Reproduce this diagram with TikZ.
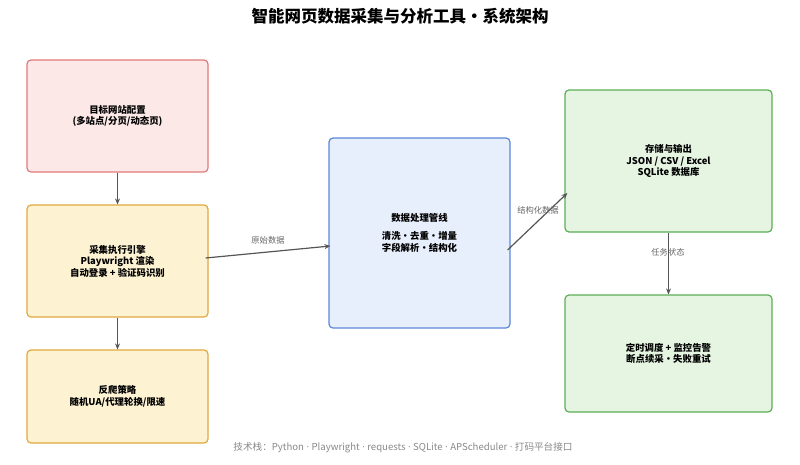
\documentclass[tikz,border=0pt]{standalone}
\usepackage{fontspec}
\setmainfont{Noto Sans CJK SC}
\newfontfamily\latinfont{Noto Sans}
\usepackage{tikz}
\usetikzlibrary{arrows.meta}
\definecolor{pinkfill}{HTML}{FDE8E8}
\definecolor{pinkline}{HTML}{E07A7A}
\definecolor{yelfill}{HTML}{FDF3D3}
\definecolor{yelline}{HTML}{E0A83E}
\definecolor{bluefill}{HTML}{E8EFFC}
\definecolor{blueline}{HTML}{5B86D8}
\definecolor{grnfill}{HTML}{E5F5E2}
\definecolor{grnline}{HTML}{5CAD55}
\definecolor{arrowgray}{HTML}{555555}
\definecolor{labelgray}{HTML}{666666}
\definecolor{footgray}{HTML}{888888}
\def\sep{{\latinfont\ ·\ }}
\tikzset{
	box/.style={rectangle, rounded corners=4pt, line width=1.2pt, align=center,
		font=\bfseries\fontsize{9.4}{11.5}\selectfont, inner sep=0pt},
	flow/.style={line width=1.2pt, draw=arrowgray, -{Stealth[length=6pt,width=5pt]}},
	edgelabel/.style={font=\fontsize{8.3}{10}\selectfont, text=labelgray}
}

\begin{document}
\begin{tikzpicture}[x=1pt,y=-1pt]
			%%%%% START %%%%%
			
			\useasboundingbox (0, 0) rectangle (800, 464);
			
			\node[font=\bfseries\fontsize{16.5}{19}\selectfont] (title) at (400, 16) {智能网页数据采集与分析工具·系统架构};
			
			% left column
			\node[box, fill=pinkfill, draw=pinkline, minimum width=181pt, minimum height=112pt] (target) at (117.5, 116) {目标网站配置\\(多站点/分页/动态页)};
			\node[box, fill=yelfill, draw=yelline, minimum width=181pt, minimum height=112pt] (engine) at (117.5, 261) {采集执行引擎\\Playwright 渲染\\自动登录 + 验证码识别};
			\node[box, fill=yelfill, draw=yelline, minimum width=181pt, minimum height=93pt] (anti) at (117.5, 396.5) {反爬策略\\随机UA/代理轮换/限速};
			
			% middle
			\node[box, fill=bluefill, draw=blueline, minimum width=181pt, minimum height=190pt, font=\bfseries\fontsize{9.4}{12}\selectfont] (pipe) at (419.5, 233) {数据处理管线\\[6pt]清洗·去重·增量\\字段解析·结构化};
			
			% right column
			\node[box, fill=grnfill, draw=grnline, minimum width=207pt, minimum height=142pt] (store) at (668.5, 161) {存储与输出\\JSON / CSV / Excel\\SQLite 数据库};
			\node[box, fill=grnfill, draw=grnline, minimum width=207pt, minimum height=117pt] (sched) at (668.5, 353.5) {定时调度 + 监控告警\\断点续采·失败重试};
			
			% connectors
			\draw[flow] ([yshift=3pt, xshift=-3pt]engine.east) -- ([yshift=-13pt, xshift=2pt]pipe.west);
			\draw[flow] ([yshift=-17pt, xshift=-3pt]pipe.east) -- ([yshift=-32pt, xshift=3pt]store.west);
			\draw[flow] (target.south) -- (engine.north);
			\draw[flow] (engine.south) -- (anti.north);
			\draw[flow] (store.south) -- (sched.north);
			
			\node[edgelabel] (raw) at (268, 240) {原始数据};
			\node[edgelabel] (structured) at (538, 210) {结构化数据};
			\node[edgelabel] (status) at (668, 252) {任务状态};
			
			\node[font=\fontsize{9.6}{11}\selectfont, text=footgray] (footer) at (403, 448) {技术栈：Python\sep Playwright\sep requests\sep SQLite\sep APScheduler\sep 打码平台接口};
			
			%%%%% END %%%%%
		\end{tikzpicture}
\end{document}
